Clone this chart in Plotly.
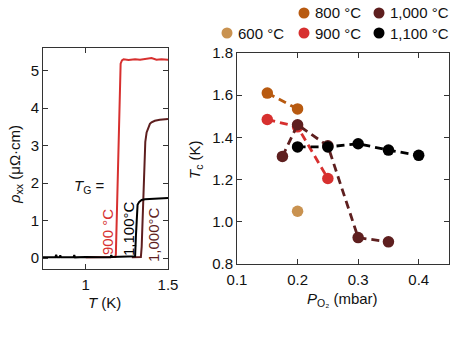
import plotly.graph_objects as go

W, H = 457, 360

# ---------------- Left panel data: rho_xx vs T ----------------
T_900 = [1.00, 1.05, 1.10, 1.13, 1.15, 1.18, 1.183, 1.19, 1.197, 1.203, 1.207, 1.212, 1.22, 1.23, 1.26, 1.30, 1.33, 1.36, 1.40, 1.43, 1.46, 1.5]
rho_900 = [0.02, 0.02, 0.02, 0.03, 0.02, 0.03, 0.10, 1.30, 2.70, 4.00, 4.90, 5.18, 5.27, 5.30, 5.28, 5.30, 5.29, 5.31, 5.33, 5.29, 5.30, 5.29]

T_1000 = [1.28, 1.31, 1.335, 1.340, 1.345, 1.350, 1.355, 1.362, 1.37, 1.38, 1.39, 1.40, 1.42, 1.45, 1.48, 1.5]
rho_1000 = [0.02, 0.02, 0.03, 0.30, 1.10, 1.90, 2.60, 3.10, 3.35, 3.50, 3.58, 3.62, 3.66, 3.69, 3.70, 3.71]

T_1100 = [0.74, 0.78, 0.815, 0.82, 0.825, 0.84, 0.845, 0.85, 0.90, 0.925, 0.93, 0.935, 1.00, 1.05, 1.10, 1.15, 1.155, 1.16, 1.20, 1.25, 1.29, 1.300, 1.305, 1.310, 1.315, 1.325, 1.34, 1.36, 1.40, 1.45, 1.5]
rho_1100 = [0.02, 0.02, 0.02, 0.09, 0.02, 0.02, 0.07, 0.02, 0.02, 0.02, 0.08, 0.02, 0.03, 0.02, 0.02, 0.02, 0.08, 0.03, 0.03, 0.03, 0.03, 0.05, 0.60, 1.30, 1.42, 1.50, 1.55, 1.57, 1.58, 1.59, 1.60]

left_series = [
    ("900 °C", "#D7302F", T_900, rho_900),
    ("1,000 °C", "#5E1F1F", T_1000, rho_1000),
    ("1,100 °C", "#000000", T_1100, rho_1100),
]

# ---------------- Right panel data: Tc vs P_O2 ----------------
P_600 = [0.20]
Tc_600 = [1.05]
P_800 = [0.15, 0.20]
Tc_800 = [1.61, 1.535]
P_900 = [0.15, 0.20, 0.25]
Tc_900 = [1.485, 1.45, 1.205]
P_1000 = [0.175, 0.20, 0.25, 0.30, 0.35]
Tc_1000 = [1.31, 1.46, 1.36, 0.925, 0.905]
P_1100 = [0.20, 0.25, 0.30, 0.35, 0.40]
Tc_1100 = [1.355, 1.355, 1.37, 1.34, 1.315]

right_series = [
    ("600 °C", "#C99250", P_600, Tc_600),
    ("800 °C", "#B85A10", P_800, Tc_800),
    ("900 °C", "#D7302F", P_900, Tc_900),
    ("1,000 °C", "#5E1F1F", P_1000, Tc_1000),
    ("1,100 °C", "#000000", P_1100, Tc_1100),
]

FONT = "Liberation Sans, Arial, sans-serif"
AXCOL = "#333333"

fig = go.Figure()

for name, col, x, y in left_series:
    fig.add_trace(go.Scatter(x=x, y=y, mode="lines", name=name,
                             line=dict(color=col, width=2),
                             xaxis="x", yaxis="y", showlegend=False))

for name, col, x, y in right_series:
    fig.add_trace(go.Scatter(x=x, y=y, mode="lines+markers", name=name,
                             line=dict(color=col, width=2.8, dash="8px,5px"),
                             marker=dict(color=col, size=11.5),
                             xaxis="x2", yaxis="y2", showlegend=False))

def px_x(p):
    return p / W

def px_y(p):
    return 1 - p / H

axis_common = dict(showline=True, linecolor=AXCOL, linewidth=1, mirror="ticks",
                   ticks="inside", ticklen=5, tickcolor=AXCOL, showgrid=False,
                   zeroline=False, automargin=False,
                   tickfont=dict(family=FONT, size=15, color="#111"))

fig.update_layout(
    width=W, height=H, margin=dict(l=0, r=0, t=0, b=0),
    paper_bgcolor="white", plot_bgcolor="white",
    font=dict(family=FONT, size=14, color="#111"),
    xaxis=dict(domain=[px_x(43), px_x(168)], range=[0.74, 1.5],
               tickvals=[1, 1.5], ticktext=["1", "1.5"], anchor="y",
               ticklabelstandoff=2, **axis_common),
    yaxis=dict(domain=[px_y(269), px_y(48)], range=[-0.29, 5.6],
               tickvals=[0, 1, 2, 3, 4, 5], anchor="x", **axis_common),
    xaxis2=dict(domain=[px_x(237), px_x(449)], range=[0.1, 0.45],
                tickvals=[0.1, 0.2, 0.3, 0.4], tickformat=".1f", anchor="y2",
                ticklabelstandoff=2, **axis_common),
    yaxis2=dict(domain=[px_y(264), px_y(53)], range=[0.8, 1.8],
                tickvals=[0.8, 1.0, 1.2, 1.4, 1.6, 1.8], tickformat=".1f", anchor="x2", **axis_common),
)

ann = []

def add_text(text, xp, yp, angle=0, color="#111", size=15, xanchor="center"):
    ann.append(dict(text=text, x=px_x(xp), y=px_y(yp), textangle=angle,
                    xref="paper", yref="paper", showarrow=False,
                    xanchor=xanchor, yanchor="middle",
                    font=dict(size=size, color=color, family=FONT)))

# axis titles
add_text("<i>ρ</i><sub>xx</sub> (μΩ·cm)", 16, 165, angle=-90)
add_text("<i>T</i> (K)", 104, 302)
add_text("<i>T</i><sub>c</sub> (K)", 195, 160, angle=-90)
add_text("<i>P</i><sub>O₂</sub> (mbar)", 342, 299)
# T_G = label
add_text("<i>T</i><sub>G</sub> =", 89, 186)
# rotated curve labels
for (name, col, _, _), (xp, yp) in zip(left_series, [(107, 232), (153, 235), (128, 229)]):
    add_text(name.replace("1,000 °C", "1,000°C").replace("1,100 °C", "1,100°C"),
             xp, yp, angle=-90, color=col)

# manual legend (two rows, right-aligned columns)
legend_pos = {"600 °C": (227, 33), "800 °C": (304, 13), "900 °C": (304, 33),
              "1,000 °C": (379, 13), "1,100 °C": (379, 33)}
shapes = []
for name, col, _, _ in right_series:
    mx, my = legend_pos[name]
    shapes.append(dict(type="circle", xref="paper", yref="paper",
                       xsizemode="pixel", ysizemode="pixel",
                       xanchor=px_x(mx), yanchor=px_y(my),
                       x0=-5.5, x1=5.5, y0=-5.5, y1=5.5,
                       fillcolor=col, line=dict(width=0)))
    add_text(name, mx + 9, my, xanchor="left")

fig.update_layout(annotations=ann, shapes=shapes)
fig.write_html("out.html")
